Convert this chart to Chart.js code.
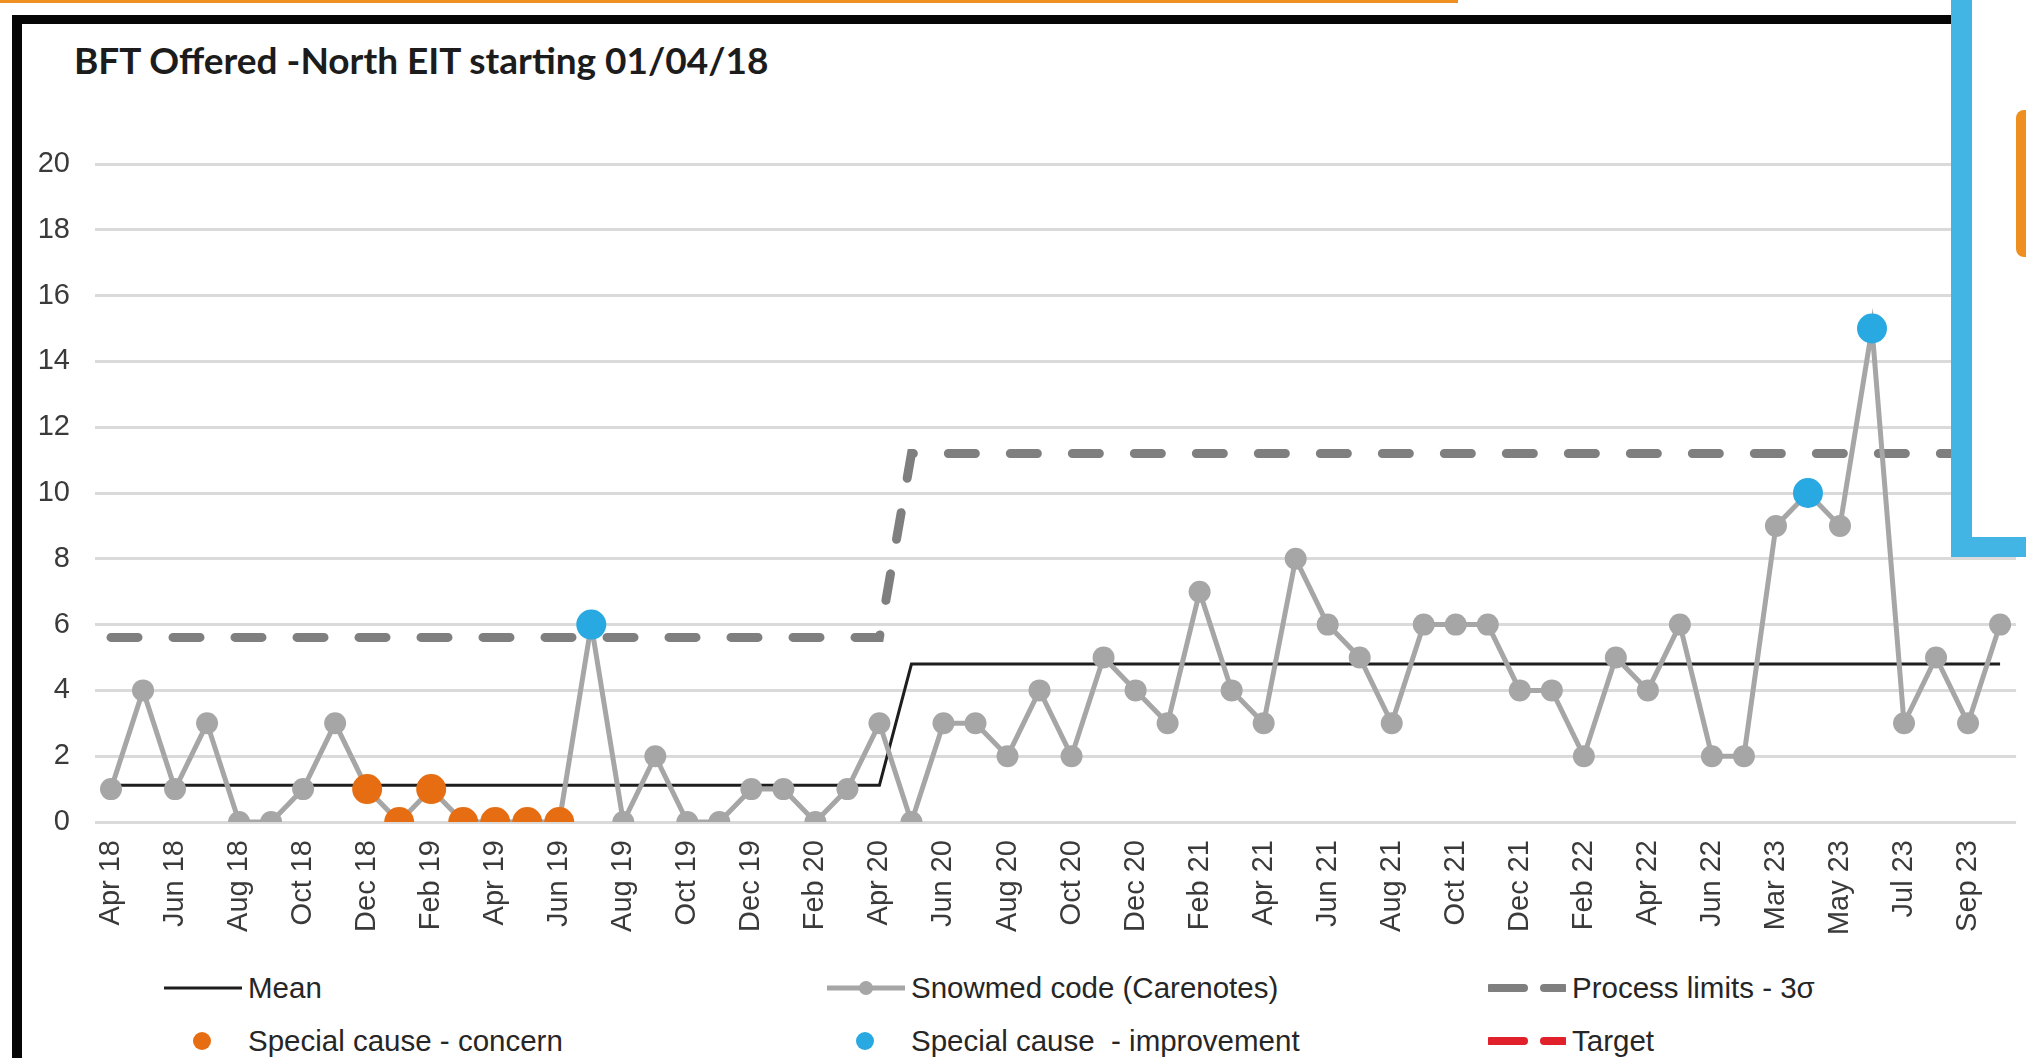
<!DOCTYPE html>
<html>
<head>
<meta charset="utf-8">
<script src="https://cdn.jsdelivr.net/npm/chart.js@4.4.1/dist/chart.umd.min.js"></script>
<style>
  html, body { margin: 0; padding: 0; background: #fff; }
  body { width: 2026px; height: 1058px; position: relative; overflow: hidden; font-family: "Liberation Sans", Arial, sans-serif; }
  .topline { position: absolute; left: 0; top: 0; width: 1458px; height: 3px; background: #ef8f22; }
  .frame { position: absolute; left: 12px; top: 15px; width: 1939px; height: 1100px; box-sizing: border-box;
           border-left: 10px solid #060606; border-top: 9px solid #060606; }
  .title { position: absolute; left: 74px; top: 41px; font: bold 37px Lato, "Open Sans", sans-serif; color: #1c1c1c; line-height: 37px; white-space: nowrap; }
  #wrap { position: absolute; left: 0; top: 0; width: 2053px; height: 960px; }
  .bluebox { position: absolute; left: 1951px; top: 0; width: 75px; height: 557px; box-sizing: border-box;
             background: #fff; border-left: 21px solid #42b5e5; border-bottom: 20px solid #42b5e5; z-index: 5; }
  .tab { position: absolute; left: 2016px; top: 110px; width: 10px; height: 147px; background: #ef8f22; border-radius: 8px 0 0 8px; z-index: 6; }
  #legend { position: absolute; left: 164px; top: 968px; display: grid; grid-template-columns: 663px 661px auto; grid-auto-rows: 53px; z-index: 4; }
  .item { display: flex; align-items: center; height: 40px; font-size: 29.5px; color: #262626; white-space: pre; }
  .item svg { flex: none; margin-right: 6px; }
</style>
</head>
<body>
<div class="topline"></div>
<div class="frame"></div>
<div class="title">BFT Offered -North EIT starting 01/04/18</div>
<div id="wrap"><canvas id="spc" width="2053" height="960"></canvas></div>
<div id="legend"></div>
<div class="bluebox"></div>
<div class="tab"></div>
<script>
const categories = [
  "Apr 18","May 18","Jun 18","Jul 18","Aug 18","Sep 18","Oct 18","Nov 18","Dec 18","Jan 19",
  "Feb 19","Mar 19","Apr 19","May 19","Jun 19","Jul 19","Aug 19","Sep 19","Oct 19","Nov 19",
  "Dec 19","Jan 20","Feb 20","Mar 20","Apr 20","May 20","Jun 20","Jul 20","Aug 20","Sep 20",
  "Oct 20","Nov 20","Dec 20","Jan 21","Feb 21","Mar 21","Apr 21","May 21","Jun 21","Jul 21",
  "Aug 21","Sep 21","Oct 21","Nov 21","Dec 21","Jan 22","Feb 22","Mar 22","Apr 22","May 22",
  "Jun 22","Jul 22","Mar 23","Apr 23","May 23","Jun 23","Jul 23","Aug 23","Sep 23","Oct 23"
];

// Snowmed code (Carenotes) monthly counts
const snowmedValues = [
  1, 4, 1, 3, 0, 0, 1, 3, 1, 0,
  1, 0, 0, 0, 0, 6, 0, 2, 0, 0,
  1, 1, 0, 1, 3, 0, 3, 3, 2, 4,
  2, 5, 4, 3, 7, 4, 3, 8, 6, 5,
  3, 6, 6, 6, 4, 4, 2, 5, 4, 6,
  2, 2, 9, 10, 9, 15, 3, 5, 3, 6
];

// special cause points (indexes into snowmedValues)
const concernIdx = [8, 9, 10, 11, 12, 13, 14];
const improvementIdx = [15, 53, 55];

// process phases: recalculated from May 20
const phaseStart = 25;
const meanByPhase = [1.12, 4.8];
const upperLimitByPhase = [5.61, 11.2];

const yTicks = { min: 0, max: 20, step: 2 };

const phaseOf = i => (i < phaseStart ? 0 : 1);
const meanData = categories.map((c, i) => meanByPhase[phaseOf(i)]);
const limitData = categories.map((c, i) => upperLimitByPhase[phaseOf(i)]);
const concernData = snowmedValues.map((v, i) => concernIdx.includes(i) ? v : null);
const improvementData = snowmedValues.map((v, i) => improvementIdx.includes(i) ? v : null);

const GREY = "#a6a6a6", ORANGE = "#e66d12", BLUE = "#29a9e1", LIMIT = "#7f7f7f", MEAN = "#1e1e1e";
const tickFont = { family: "'Liberation Sans', Arial, sans-serif", size: 29 };

new Chart(document.getElementById("spc"), {
  type: "line",
  data: {
    labels: categories,
    datasets: [
      {
        label: "Process limits - 3σ",
        data: limitData,
        borderColor: LIMIT,
        borderWidth: 9,
        borderDash: [27, 35],
        borderCapStyle: "round",
        pointRadius: 0,
        order: 4
      },
      {
        label: "Mean",
        data: meanData,
        borderColor: MEAN,
        borderWidth: 3,
        pointRadius: 0,
        order: 3
      },
      {
        label: "Snowmed code (Carenotes)",
        data: snowmedValues,
        borderColor: GREY,
        borderWidth: 5,
        pointRadius: 11,
        pointBackgroundColor: GREY,
        pointBorderWidth: 0,
        order: 2
      },
      {
        label: "Special cause - concern",
        data: concernData,
        showLine: false,
        pointRadius: 15,
        pointBackgroundColor: ORANGE,
        pointBorderWidth: 0,
        order: 1
      },
      {
        label: "Special cause  - improvement",
        data: improvementData,
        showLine: false,
        pointRadius: 15,
        pointBackgroundColor: BLUE,
        pointBorderWidth: 0,
        order: 0
      }
    ]
  },
  options: {
    responsive: false,
    animation: false,
    devicePixelRatio: 1,
    layout: { padding: { left: 22, right: 9, top: 164, bottom: 0 } },
    plugins: {
      legend: { display: false },
      tooltip: { enabled: false },
      title: { display: false }
    },
    scales: {
      x: {
        offset: true,
        grid: { display: false, drawTicks: false },
        border: { display: false },
        ticks: {
          autoSkip: false,
          minRotation: 90,
          maxRotation: 90,
          padding: 18,
          color: "#3a3a3a",
          font: tickFont,
          callback: (v, i) => (i % 2 === 0 ? categories[i] : "")
        },
        afterFit: s => { s.height = 138; }
      },
      y: {
        min: yTicks.min,
        max: yTicks.max,
        grid: { color: "#dadada", lineWidth: 3, drawTicks: false },
        border: { display: false },
        ticks: { stepSize: yTicks.step, padding: 25, color: "#3a3a3a", font: tickFont },
        afterFit: s => { s.width = 73; }
      }
    }
  }
});

// legend laid out as in the original (3 columns x 2 rows)
const legendItems = [
  { label: "Mean", kind: "line", color: MEAN },
  { label: "Snowmed code (Carenotes)", kind: "linedot", color: GREY },
  { label: "Process limits - 3σ", kind: "dash", color: LIMIT },
  { label: "Special cause - concern", kind: "dot", color: ORANGE },
  { label: "Special cause  - improvement", kind: "dot", color: BLUE },
  { label: "Target", kind: "dash", color: "#e0212b" }
];

function sample(kind, color) {
  let g = "";
  if (kind === "line") g = `<line x1="0" y1="10" x2="78" y2="10" stroke="${color}" stroke-width="3"/>`;
  if (kind === "linedot") g = `<line x1="0" y1="10" x2="78" y2="10" stroke="${color}" stroke-width="5"/><circle cx="39" cy="10" r="7" fill="${color}"/>`;
  if (kind === "dash") g = `<line x1="2" y1="10" x2="36" y2="10" stroke="${color}" stroke-width="8" stroke-linecap="round"/><line x1="56" y1="10" x2="76" y2="10" stroke="${color}" stroke-width="8" stroke-linecap="round"/>`;
  if (kind === "dot") g = `<circle cx="38" cy="10" r="9" fill="${color}"/>`;
  return `<svg width="78" height="20">${g}</svg>`;
}

document.getElementById("legend").innerHTML = legendItems
  .map(it => `<div class="item">${sample(it.kind, it.color)}<span>${it.label}</span></div>`)
  .join("");
</script>
</body>
</html>
